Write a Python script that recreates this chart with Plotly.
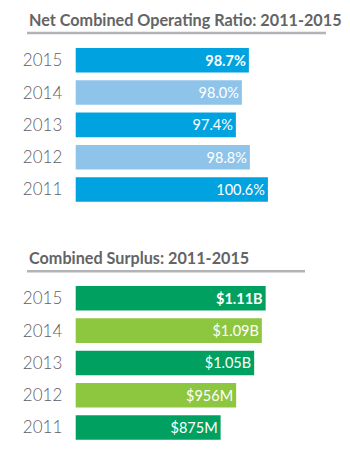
import plotly.graph_objects as go

years = ["2011", "2012", "2013", "2014", "2015"]
ratio_values = [100.6, 98.8, 97.4, 98.0, 98.7]
ratio_labels = ["100.6%", "98.8%", "97.4%", "98.0%", "98.7%"]
surplus_values = [875, 956, 1050, 1090, 1110]  # $M
surplus_labels = ["$875M", "$956M", "$1.05B", "$1.09B", "$1.11B"]
title_top = "Net Combined Operating Ratio: 2011-2015"
title_bottom = "Combined Surplus: 2011-2015"

blue_dark, blue_light = "#00a3e0", "#8fc4ea"
green_dark, green_light = "#00a160", "#8dc63f"
blue_colors = [blue_dark, blue_light, blue_dark, blue_light, blue_dark]
green_colors = [green_dark, green_light, green_dark, green_light, green_dark]

def bold_last(labels):
    return [("<b>%s</b>" % t) if i == len(labels) - 1 else t for i, t in enumerate(labels)]

W, H = 350, 449
fig = go.Figure()
fig.add_trace(go.Bar(
    x=ratio_values, y=years, orientation="h", marker=dict(color=blue_colors, line=dict(width=0)),
    text=bold_last(ratio_labels), textposition="inside", insidetextanchor="end",
    textfont=dict(family="Lato", size=14.5, color="white"), cliponaxis=True,
    xaxis="x", yaxis="y", hoverinfo="skip"))
fig.add_trace(go.Bar(
    x=surplus_values, y=years, orientation="h", marker=dict(color=green_colors, line=dict(width=0)),
    text=bold_last(surplus_labels), textposition="inside", insidetextanchor="end",
    textfont=dict(family="Lato", size=14.5, color="white"), cliponaxis=True,
    xaxis="x2", yaxis="y2", hoverinfo="skip"))

xd = [75.7 / W, 1]
ax_common = dict(showgrid=False, zeroline=False, showline=False, showticklabels=False, fixedrange=True)
yax_common = dict(showgrid=False, zeroline=False, showline=False, type="category",
                  tickfont=dict(family="Lato", size=17, color="#5f6062", weight=300),
                  ticks="outside", ticklen=9, tickcolor="rgba(0,0,0,0)")
fig.update_layout(
    width=W, height=H, margin=dict(l=0, r=0, t=0, b=0),
    paper_bgcolor="white", plot_bgcolor="white", showlegend=False, bargap=0.24,
    xaxis=dict(domain=xd, range=[81.4, 108.8], anchor="y", **ax_common),
    yaxis=dict(domain=[0.5421, 0.9017], anchor="x", **yax_common),
    xaxis2=dict(domain=xd, range=[119, 1550], anchor="y2", **ax_common),
    yaxis2=dict(domain=[0.0119, 0.3716], anchor="x2", **yax_common),
    shapes=[
        dict(type="line", xref="paper", yref="paper", x0=27 / W, x1=326 / W,
             y0=1 - 33 / H, y1=1 - 33 / H, line=dict(color="#b1b3b6", width=2.5)),
        dict(type="line", xref="paper", yref="paper", x0=27 / W, x1=305 / W,
             y0=1 - 271.2 / H, y1=1 - 271.2 / H, line=dict(color="#b1b3b6", width=2.5)),
    ],
    annotations=[
        dict(text="<b>%s</b>" % title_top, xref="paper", yref="paper", x=27 / W, y=1 - 20 / H,
             xanchor="left", yanchor="middle", showarrow=False,
             font=dict(family="Lato", size=16.2, color="#636466")),
        dict(text="<b>%s</b>" % title_bottom, xref="paper", yref="paper", x=27 / W, y=1 - 257 / H,
             xanchor="left", yanchor="middle", showarrow=False,
             font=dict(family="Lato", size=16.2, color="#636466")),
    ],
)
fig.write_html("out.html")
